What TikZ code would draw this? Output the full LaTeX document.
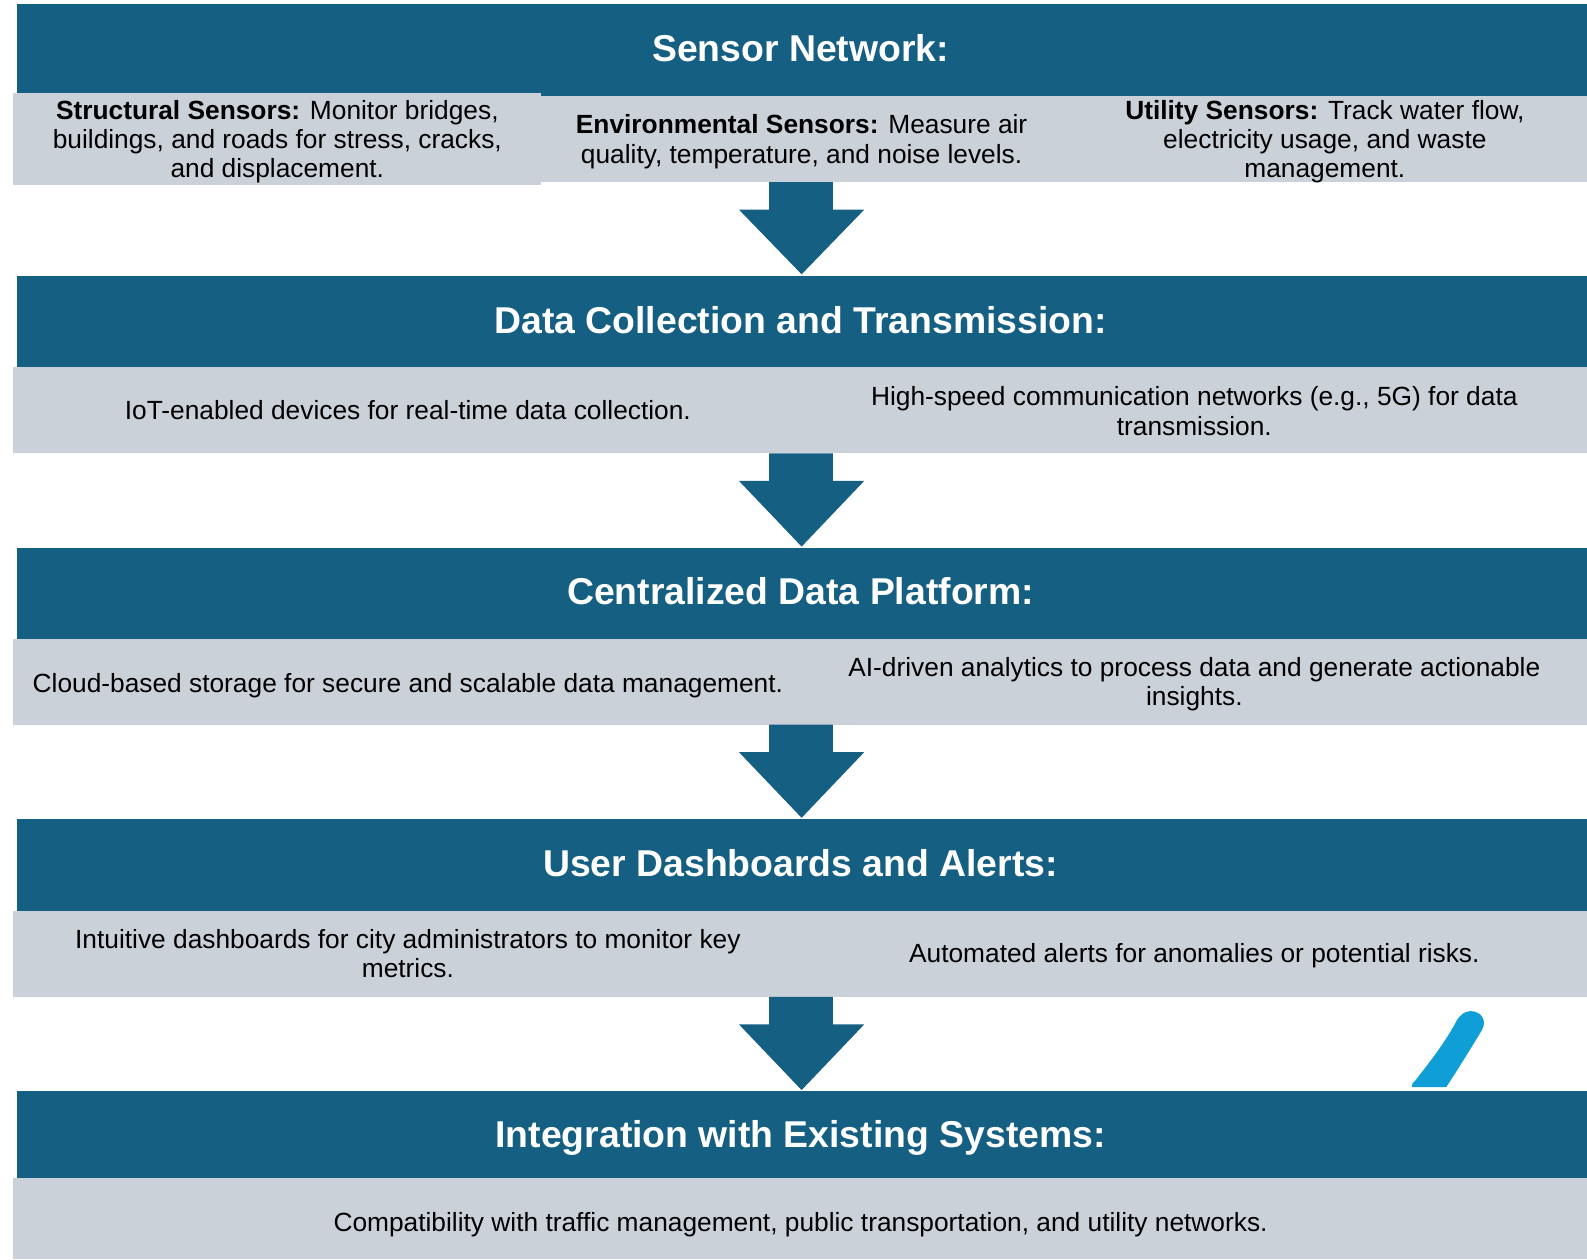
\documentclass[tikz,border=0pt]{standalone}
\usepackage{fontspec}
\setmainfont{Liberation Sans}
\definecolor{bandblue}{HTML}{156082}
\definecolor{panelgray}{RGB}{203,209,217}
\definecolor{accentblue}{HTML}{0F9ED5}

\begin{document}
\begin{tikzpicture}[x=0.5pt,y=-0.5pt,
  band/.style={fill=bandblue},
  panel/.style={fill=panelgray},
  flowarrow/.style={fill=bandblue},
  headtext/.style={inner sep=0pt, text=white, align=center,
    font=\fontsize{18.45}{22}\selectfont\bfseries},
  bodytext/.style={inner sep=0pt, text=black, align=center,
    font=\fontsize{13}{14.5}\selectfont}]

\useasboundingbox (0,0) rectangle (1568,1244);

% ---- stage 1: sensor network
\fill[band] (17,4) rectangle (1568,95);
\fill[panel] (13,92) rectangle (535,183);
\fill[panel] (535,95) rectangle (1050,180);
\fill[panel] (1050,95) rectangle (1568,180);
\node[headtext] (t1) at (791,48) {Sensor Network:};
\node[bodytext] (s1a) at (274,140) {\textbf{Structural Sensors:} Monitor bridges,\\ buildings, and roads for stress, cracks,\\ and displacement.};
\node[bodytext] (s1b) at (792,140) {\textbf{Environmental Sensors:} Measure air\\ quality, temperature, and noise levels.};
\node[bodytext] (s1c) at (1309,140) {\textbf{Utility Sensors:} Track water flow,\\ electricity usage, and waste\\ management.};

% ---- stage 2: data collection
\fill[band] (17,273) rectangle (1568,363);
\fill[panel] (13,363) rectangle (1568,448);
\node[headtext] (t2) at (791,316) {Data Collection and Transmission:};
\node[bodytext] (s2a) at (403,405) {IoT-enabled devices for real-time data collection.};
\node[bodytext] (s2b) at (1180,406) {High-speed communication networks (e.g., 5G) for data\\ transmission.};

% ---- stage 3: data platform
\fill[band] (17,541) rectangle (1568,631);
\fill[panel] (13,631) rectangle (1568,716);
\node[headtext] (t3) at (791,584) {Centralized Data Platform:};
\node[bodytext] (s3a) at (403,677) {Cloud-based storage for secure and scalable data management.};
\node[bodytext] (s3b) at (1180,676) {AI-driven analytics to process data and generate actionable\\ insights.};

% ---- stage 4: dashboards
\fill[band] (17,809) rectangle (1568,900);
\fill[panel] (13,900) rectangle (1568,985);
\node[headtext] (t4) at (791,853) {User Dashboards and Alerts:};
\node[bodytext] (s4a) at (403,942) {Intuitive dashboards for city administrators to monitor key\\ metrics.};
\node[bodytext] (s4b) at (1180,944) {Automated alerts for anomalies or potential risks.};

% ---- stage 5: integration
\fill[band] (17,1078) rectangle (1568,1164);
\fill[panel] (13,1164) rectangle (1568,1244);
\node[headtext] (t5) at (791,1124) {Integration with Existing Systems:};
\node[bodytext] (s5a) at (791,1210) {Compatibility with traffic management, public transportation, and utility networks.};

% ---- block arrows between the stages
\foreach \top/\tip in {180/271, 448/540, 716/808, 985/1077}{
  \fill[flowarrow] (760,\top) -- (760,\top+27) -- (730,\top+27) -- (792,\tip)
    -- (854,\top+27) -- (823,\top+27) -- (823,\top) -- cycle;
}

% ---- accent stroke
\fill[accentblue] (1395,1074) -- (1429,1074)
  .. controls (1442,1054) and (1455,1033) .. (1464,1018)
  .. controls (1470,1008) and (1463,999) .. (1453,999)
  .. controls (1447,999) and (1443,1003) .. (1440,1007)
  .. controls (1428,1030) and (1412,1050) .. (1398,1068)
  .. controls (1395,1071) .. cycle;

\end{tikzpicture}
\end{document}
